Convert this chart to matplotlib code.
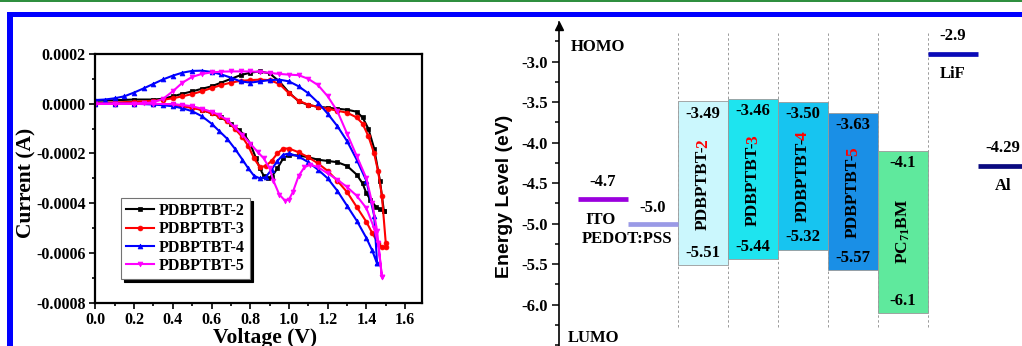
import matplotlib.pyplot as plt
from matplotlib.patches import Rectangle
from matplotlib.ticker import MultipleLocator, FormatStrFormatter

plt.rcParams['font.family'] = 'Liberation Serif'
plt.rcParams['font.weight'] = 'bold'
plt.rcParams['axes.unicode_minus'] = False
plt.rcParams['mathtext.fontset'] = 'custom'
plt.rcParams['mathtext.rm'] = 'Liberation Serif:bold'
plt.rcParams['mathtext.default'] = 'rm'

# ---- cyclic voltammetry (current in units of 1e-4 A) ----
cv_labels = ['PDBPTBT-2', 'PDBPTBT-3', 'PDBPTBT-4', 'PDBPTBT-5']
cv_colors = ['black', 'red', 'blue', 'magenta']
cv_markers = ['s', 'o', '^', 'v']

v2_fwd = [0, .1, .2, .3, .35, .4, .45, .5, .55, .6, .65, .7, .75, .8, .85, .9, .95, 1.0, 1.05,
          1.1, 1.15, 1.2, 1.25, 1.3, 1.35, 1.38, 1.41, 1.44, 1.47, 1.49]
i2_fwd = [.12, .14, .17, .17, .2, .3, .4, .5, .6, .7, .85, 1.0, 1.15, 1.25, 1.3, 1.22, .9, .45, .1,
          -.05, -.12, -.16, -.2, -.24, -.32, -.55, -1.0, -1.8, -3.1, -4.3]
v2_rev = [1.49, 1.47, 1.45, 1.42, 1.40, 1.38, 1.35, 1.3, 1.25, 1.2, 1.15, 1.1, 1.05, 1.0, .97, .94,
          .91, .89, .87, .85, .83, .8, .77, .74, .7, .65, .6, .55, .5, .45, .4, .3, .2, .1, 0]
i2_rev = [-4.3, -4.25, -4.15, -3.85, -3.6, -3.2, -2.85, -2.5, -2.35, -2.3, -2.25, -2.15, -2.08, -2.06,
          -2.2, -2.6, -2.95, -3.0, -2.9, -2.6, -2.2, -1.6, -1.25, -1.05, -0.8, -0.55, -0.38, -0.25,
          -0.14, -0.07, -0.03, -0.01, 0, 0, 0]

v3_fwd = [0, .1, .2, .3, .35, .4, .45, .5, .55, .6, .65, .7, .75, .8, .85, .9, .95, 1.0, 1.05, 1.1,
          1.15, 1.2, 1.25, 1.3, 1.35, 1.38, 1.41, 1.44, 1.46, 1.48, 1.5]
i3_fwd = [.02, .05, .08, .12, .16, .22, .3, .39, .5, .63, .75, .85, .92, .95, .97, .95, .8, .42, .12,
          -.04, -.13, -.2, -.28, -.36, -.55, -.8, -1.3, -2.0, -2.7, -3.7, -5.6]
v3_rev = [1.5, 1.48, 1.46, 1.43, 1.4, 1.35, 1.3, 1.25, 1.2, 1.15, 1.1, 1.05, 1.0, .97, .94, .91, .88,
          .85, .82, .79, .76, .72, .68, .64, .6, .55, .5, .45, .4, .3, .2, .1, 0]
i3_rev = [-5.75, -5.75, -5.6, -5.2, -4.75, -4.15, -3.55, -3.1, -2.7, -2.4, -2.15, -1.95, -1.8, -1.8,
          -2.0, -2.3, -2.5, -2.55, -2.2, -1.7, -1.35, -1.0, -0.7, -0.5, -0.38, -0.25, -0.17, -0.1,
          -0.05, -0.01, 0, 0, 0]

v4_fwd = [0, .05, .1, .15, .2, .25, .3, .35, .4, .45, .5, .55, .6, .65, .7, .75, .8, .85, .9, .95,
          1.0, 1.05, 1.1, 1.15, 1.2, 1.25, 1.3, 1.35, 1.4, 1.44, 1.455]
i4_fwd = [.15, .17, .22, .3, .45, .62, .8, .98, 1.13, 1.25, 1.32, 1.33, 1.28, 1.18, 1.05, .9, .85, .9,
          .95, .97, .9, .7, .42, .05, -.4, -.9, -1.5, -2.25, -3.1, -4.5, -6.4]
v4_rev = [1.455, 1.43, 1.4, 1.35, 1.3, 1.25, 1.2, 1.15, 1.1, 1.05, 1.0, .97, .94, .91, .88, .85, .82,
          .79, .76, .72, .68, .64, .6, .55, .5, .45, .4, .35, .3, .2, .1, 0]
i4_rev = [-6.42, -5.9, -5.4, -4.7, -4.1, -3.5, -3.0, -2.65, -2.35, -2.12, -2.0, -2.05, -2.3, -2.65,
          -2.95, -3.0, -2.9, -2.6, -2.25, -1.8, -1.4, -1.1, -0.8, -0.5, -0.3, -0.18, -0.1, -0.06,
          -0.03, 0, 0, 0]

v5_fwd = [0, .1, .2, .25, .3, .35, .4, .45, .5, .55, .6, .65, .7, .75, .8, .85, .9, .95, 1.0, 1.05,
          1.1, 1.15, 1.2, 1.25, 1.3, 1.35, 1.4, 1.43, 1.455, 1.48]
i5_fwd = [0, 0, 0, .02, .06, .2, .5, .85, 1.08, 1.2, 1.26, 1.29, 1.3, 1.3, 1.3, 1.28, 1.24, 1.2, 1.17,
          1.15, 1.0, .75, .3, -.3, -1.2, -2.1, -3.0, -4.0, -5.1, -6.95]
v5_rev = [1.48, 1.46, 1.44, 1.4, 1.35, 1.3, 1.25, 1.2, 1.15, 1.11, 1.08, 1.05, 1.02, 1.0, .98, .95,
          .92, .9, .87, .84, .8, .76, .72, .68, .64, .6, .55, .5, .45, .4, .3, .2, .1, 0]
i5_rev = [-6.95, -5.6, -5.0, -4.2, -3.7, -3.35, -3.05, -2.8, -2.55, -2.45, -2.55, -2.9, -3.55, -3.85,
          -3.9, -3.65, -3.1, -2.6, -2.2, -1.95, -1.6, -1.25, -0.95, -0.65, -0.45, -0.32, -0.2, -0.1,
          -0.05, -0.02, 0, 0, 0, 0]

cv_v = [v2_fwd + v2_rev, v3_fwd + v3_rev, v4_fwd + v4_rev, v5_fwd + v5_rev]
cv_i = [i2_fwd + i2_rev, i3_fwd + i3_rev, i4_fwd + i4_rev, i5_fwd + i5_rev]

# ---- energy level diagram ----
level_names = ['ITO', 'PEDOT:PSS', 'LiF', 'Al']
level_values = [-4.7, -5.0, -2.9, -4.29]
level_text = ['-4.7', '-5.0', '-2.9', '-4.29']
level_cols = [0, 1, 7, 8]
level_colors = ['#9a00dd', '#9a9ae6', '#0a0ab8', '#0a0a80']

bar_digits = ['2', '3', '4', '5']
bar_lumo = [-3.49, -3.46, -3.50, -3.63, -4.1]
bar_homo = [-5.51, -5.44, -5.32, -5.57, -6.1]
bar_lumo_text = ['-3.49', '-3.46', '-3.50', '-3.63', '-4.1']
bar_homo_text = ['-5.51', '-5.44', '-5.32', '-5.57', '-6.1']
bar_cols = [2, 3, 4, 5, 6]
bar_colors = ['#cbf7fd', '#1ee4ef', '#17c4f0', '#1a8fe6', '#5fe99d']

fig = plt.figure(figsize=(10.22, 3.46), dpi=100)

# page decorations: green rule and blue frame
fig.add_artist(Rectangle((0, 344 / 346), 1, 2 / 346, transform=fig.transFigure,
                         color='#2f8f3f', lw=0))
fig.add_artist(Rectangle((7 / 1022, (346 - 17) / 346), 1, 5 / 346, transform=fig.transFigure,
                         color='#0000ff', lw=0))
fig.add_artist(Rectangle((7 / 1022, 0), 5.5 / 1022, (346 - 12) / 346, transform=fig.transFigure,
                         color='#0000ff', lw=0))

# ---------------- left: CV ----------------
ax1 = fig.add_axes([0.0933, 0.1251, 0.3194, 0.7188])
for v, cur, lab, c, m in zip(cv_v, cv_i, cv_labels, cv_colors, cv_markers):
    ax1.plot(v, [x * 1e-4 for x in cur], color=c, lw=1.5, marker=m, ms=3.5,
             mew=0.5, label=lab)

ax1.set_xlim(0, 1.686)
ax1.set_ylim(-0.0008, 0.0002)
ax1.xaxis.set_major_locator(MultipleLocator(0.2))
ax1.xaxis.set_minor_locator(MultipleLocator(0.1))
ax1.yaxis.set_major_locator(MultipleLocator(0.0002))
ax1.yaxis.set_minor_locator(MultipleLocator(0.0001))
ax1.xaxis.set_major_formatter(FormatStrFormatter('%.1f'))
ax1.yaxis.set_major_formatter(FormatStrFormatter('%.4f'))
ax1.tick_params(which='both', direction='out', width=1.2, labelsize=11.5, pad=3)
ax1.tick_params(which='major', length=4)
ax1.tick_params(which='minor', length=2.5)
for s in ax1.spines.values():
    s.set_linewidth(1.6)
ax1.set_xlabel('Voltage (V)', fontsize=15.5, fontweight='bold')
ax1.set_ylabel('Current (A)', fontsize=15.5, fontweight='bold')
ax1.xaxis.set_label_coords(0.52, -0.10)
ax1.yaxis.set_label_coords(-0.18, 0.48)
leg = ax1.legend(loc='upper left', bbox_to_anchor=(0.078, 0.421), fontsize=11.5,
                 handlelength=1.8, handletextpad=0.3, labelspacing=0.15, borderpad=0.3,
                 borderaxespad=0, fancybox=False, framealpha=1, edgecolor='0.45',
                 shadow={'color': 'black', 'alpha': 1})
leg.get_frame().set_linewidth(0.8)

# ---------------- right: energy levels ----------------
ax2 = fig.add_axes([0.5473, 0.0, 0.4527, 0.9364])
ax2.set_facecolor('none')
ax2.set_xlim(-0.374, 8.88)
ax2.set_ylim(-6.51, -2.51)

ax2.vlines([2, 3, 4, 5, 6, 7], -6.27, -2.65, colors='0.6', linestyles=(0, (2.5, 2.5)), lw=0.7,
           zorder=1)

for col, top, bot, c in zip(bar_cols, bar_lumo, bar_homo, bar_colors):
    ax2.bar(col, top - bot, bottom=bot, width=1, align='edge', color=c, edgecolor='0.6',
            lw=0.6, zorder=2)

for col, top, bot, tt, bt in zip(bar_cols, bar_lumo, bar_homo, bar_lumo_text, bar_homo_text):
    ax2.text(col + 0.5, top - 0.15, tt, ha='center', va='center', fontsize=12, zorder=3)
    ax2.text(col + 0.5, bot + 0.15, bt, ha='center', va='center', fontsize=12, zorder=3)

for col, top, bot, d in zip(bar_cols[:4], bar_lumo, bar_homo, bar_digits):
    mid = (top + bot) / 2 + 0.47
    ax2.text(col + 0.5, mid, 'PDBPTBT-', rotation=90, ha='center', va='top', fontsize=12.5,
             zorder=3)
    ax2.text(col + 0.5, mid - 0.03, d, rotation=90, ha='center', va='bottom', fontsize=12.5,
             color='red', zorder=3)
ax2.text(bar_cols[4] + 0.5, (bar_lumo[4] + bar_homo[4]) / 2, 'PC$_{71}$BM', rotation=90,
         ha='center', va='center', fontsize=12.5, zorder=3)

for col, val, c in zip(level_cols, level_values, level_colors):
    ax2.hlines(val, col, col + 1, colors=c, lw=3.4, zorder=2)
for col, val, t in zip(level_cols, level_values, level_text):
    up = 0.19 if t == '-5.0' else 0.22
    ax2.text(col + 0.5, val + up, t, ha='center', va='center', fontsize=12)
ax2.text(0.45, level_values[0] - 0.26, level_names[0], ha='center', va='center', fontsize=12)
ax2.text(0.98, level_values[1] - 0.19, level_names[1], ha='center', va='center', fontsize=12)
ax2.text(7.5, level_values[2] - 0.25, level_names[2], ha='center', va='center', fontsize=12)
ax2.text(8.5, level_values[3] - 0.25, level_names[3], ha='center', va='center', fontsize=12)

ax2.text(-0.15, -2.815, 'HOMO', ha='left', va='center', fontsize=12)
ax2.text(-0.2, -6.41, 'LUMO', ha='left', va='center', fontsize=12)

for side in ['top', 'right', 'bottom']:
    ax2.spines[side].set_visible(False)
ax2.spines['left'].set_linewidth(1.2)
ax2.set_xticks([])
ax2.set_yticks([-3.0, -3.5, -4.0, -4.5, -5.0, -5.5, -6.0])
ax2.yaxis.set_minor_locator(MultipleLocator(0.25))
ax2.yaxis.set_major_formatter(FormatStrFormatter('%.1f'))
ax2.tick_params(axis='y', which='both', direction='out', width=1.1, labelsize=12, pad=3)
ax2.tick_params(axis='y', which='major', length=5)
ax2.tick_params(axis='y', which='minor', length=3)
ax2.plot(-0.374, -2.56, marker='^', ms=5.5, color='black', clip_on=False)
ax2.set_ylabel('Energy Level (eV)', fontsize=14, fontweight='bold', family='Liberation Sans')
ax2.yaxis.set_label_coords(-0.10, 0.463)

fig.savefig('out.png', dpi=100, facecolor='white')
